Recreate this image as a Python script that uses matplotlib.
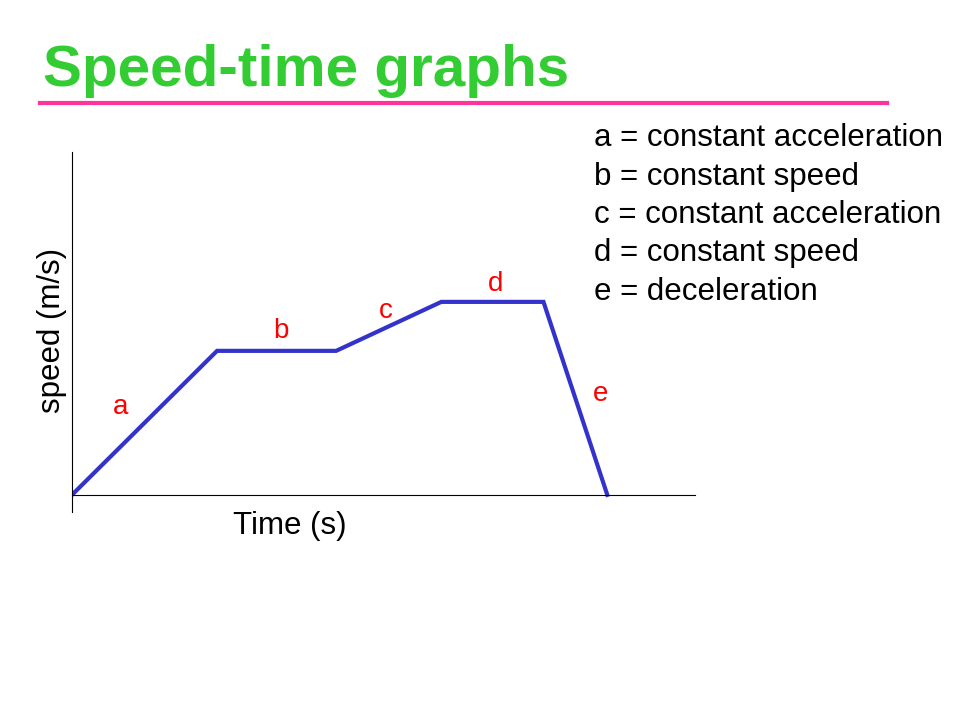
import matplotlib
matplotlib.use("Agg")
import matplotlib.pyplot as plt

time = [0, 2.91, 5.3, 7.41, 9.46, 10.74]
speed = [0, 2.94, 2.94, 3.94, 3.94, 0]
seg_labels = ["a", "b", "c", "d", "e"]
seg_label_pos = [(0.97, 1.8), (4.2, 3.35), (6.3, 3.75), (8.5, 4.3), (10.6, 2.05)]
legend_lines = ["a = constant acceleration", "b = constant speed",
                "c = constant acceleration", "d = constant speed", "e = deceleration"]

plt.rcParams['font.family'] = ['Liberation Sans', 'DejaVu Sans']
fig = plt.figure(figsize=(9.6, 7.2), dpi=100)
fig.text(0.045, 1-86/720, "Speed-time graphs", color="#33CC33", fontsize=42, fontweight="bold", va="baseline")
fig.add_artist(plt.Line2D([40/960, 887/960], [1-103/720]*2, color="#FF3399", lw=3))

ax = fig.add_axes([72/960, 1-512/720, 623/960, 360/720])
ax.plot(time, speed, color="#3333CC", lw=3, solid_joinstyle="miter")
ax.set_xlim(0, 12.5)
ax.set_ylim(-0.35, 7)
ax.spines['bottom'].set_position(('data', 0))
for s in ['top', 'right']:
    ax.spines[s].set_visible(False)
ax.set_xticks([]); ax.set_yticks([])
for lab, (x, y) in zip(seg_labels, seg_label_pos):
    ax.text(x, y, lab, color="red", fontsize=20, ha="center", va="center")
fig.text(290/960, 1-526/720, "Time (s)", fontsize=22.5, ha="center", va="center")
fig.text(52/960, 1-330/720, "speed (m/s)", fontsize=22.5, ha="center", va="center", rotation=90)
for i, t in enumerate(legend_lines):
    fig.text(594/960, 1-(138+38.5*i)/720, t, fontsize=22.5, ha="left", va="center")
fig.savefig("out.png")
